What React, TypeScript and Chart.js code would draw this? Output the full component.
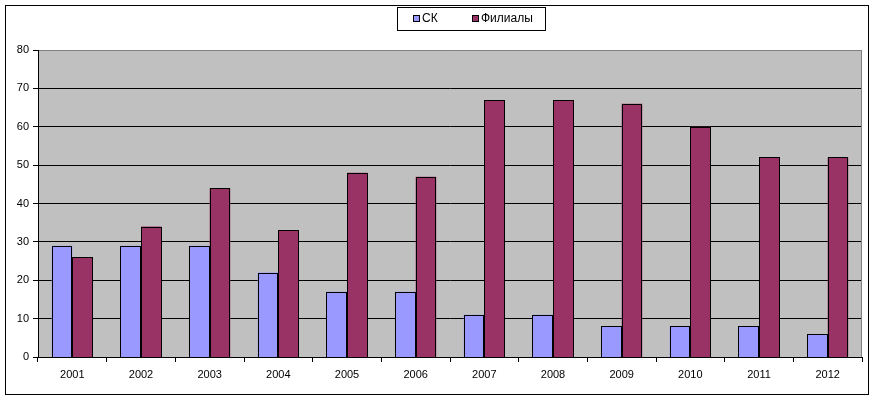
import React, { useEffect, useRef } from 'react';
import { Chart, registerables } from 'chart.js';

Chart.register(...registerables);

const years = ['2001', '2002', '2003', '2004', '2005', '2006', '2007', '2008', '2009', '2010', '2011', '2012'];
const skValues = [29, 29, 29, 22, 17, 17, 11, 11, 8, 8, 8, 6];
const filialValues = [26, 34, 44, 33, 48, 47, 67, 67, 66, 60, 52, 52];
const seriesNames = ['СК', 'Филиалы'];
const seriesColors = ['#9999FF', '#993366'];
const yMin = 0;
const yMax = 80;
const yStep = 10;

const FONT = '"Liberation Sans", Arial, sans-serif';

const framePlugin = {
  id: 'framePlugin',
  beforeDraw(chart: any) {
    const { ctx, chartArea } = chart;
    ctx.save();
    ctx.fillStyle = '#FFFFFF';
    ctx.fillRect(0, 0, chart.width, chart.height);
    ctx.strokeStyle = '#000000';
    ctx.lineWidth = 1;
    ctx.strokeRect(5.5, 5.5, 863, 389);
    ctx.fillStyle = '#C0C0C0';
    ctx.fillRect(chartArea.left, chartArea.top, chartArea.right - chartArea.left, chartArea.bottom - chartArea.top);
    ctx.restore();
  },
  afterDatasetsDraw(chart: any) {
    const { ctx } = chart;
    ctx.save();
    ctx.lineWidth = 1;
    chart.data.datasets.forEach((ds: any, di: number) => {
      const meta = chart.getDatasetMeta(di);
      meta.data.forEach((el: any) => {
        const p = el.getProps(['x', 'y', 'base', 'width'], true);
        const l = Math.round(p.x - p.width / 2);
        const r = Math.round(p.x + p.width / 2);
        const t = Math.round(p.y);
        const b = Math.round(p.base);
        ctx.fillStyle = ds.backgroundColor;
        ctx.fillRect(l, t, r - l, b - t);
        ctx.strokeStyle = '#000000';
        ctx.strokeRect(l + 0.5, t + 0.5, r - l - 1, b - t);
      });
    });
    ctx.restore();
  },
  afterDraw(chart: any) {
    const { ctx, chartArea } = chart;
    ctx.save();
    ctx.strokeStyle = '#808080';
    ctx.lineWidth = 1;
    ctx.beginPath();
    ctx.moveTo(Math.round(chartArea.right) - 0.5, chartArea.top);
    ctx.lineTo(Math.round(chartArea.right) - 0.5, chartArea.bottom);
    ctx.stroke();
    ctx.fillStyle = '#FFFFFF';
    ctx.fillRect(397, 7, 148, 23);
    ctx.strokeStyle = '#000000';
    ctx.strokeRect(397.5, 7.5, 148, 23);
    const items = [
      { x: 413, text: seriesNames[0], color: seriesColors[0] },
      { x: 472, text: seriesNames[1], color: seriesColors[1] },
    ];
    ctx.font = '12px ' + FONT;
    ctx.textBaseline = 'middle';
    ctx.textAlign = 'left';
    items.forEach((it) => {
      ctx.fillStyle = it.color;
      ctx.fillRect(it.x, 15, 7, 7);
      ctx.strokeStyle = '#000000';
      ctx.strokeRect(it.x + 0.5, 15.5, 6, 6);
      ctx.fillStyle = '#000000';
      ctx.fillText(it.text, it.x + 9, 19);
    });
    ctx.restore();
  },
};

export default function App() {
  const canvasRef = useRef<HTMLCanvasElement>(null);

  useEffect(() => {
    const canvas = canvasRef.current;
    if (!canvas) return;
    const chart = new Chart(canvas, {
      type: 'bar',
      data: {
        labels: years,
        datasets: [
          {
            label: seriesNames[0],
            data: skValues,
            backgroundColor: seriesColors[0],
            borderWidth: 0,
            categoryPercentage: 0.6,
            barPercentage: 1.0,
          },
          {
            label: seriesNames[1],
            data: filialValues,
            backgroundColor: seriesColors[1],
            borderWidth: 0,
            categoryPercentage: 0.6,
            barPercentage: 1.0,
          },
        ],
      },
      options: {
        responsive: false,
        animation: false,
        layout: { padding: { top: 50, right: 13, bottom: 0, left: 0 } },
        plugins: {
          legend: { display: false },
          tooltip: { enabled: false },
          title: { display: false },
        },
        scales: {
          x: {
            grid: {
              offset: true,
              drawOnChartArea: false,
              drawTicks: true,
              tickLength: 5,
              color: '#000000',
            },
            border: { color: '#000000', width: 1 },
            ticks: {
              color: '#000000',
              font: { family: FONT, size: 11 },
              padding: 6,
              maxRotation: 0,
              autoSkip: false,
            },
            afterFit(scale: any) {
              scale.height = 42;
            },
          },
          y: {
            min: yMin,
            max: yMax,
            grid: {
              color: (c: any) => (c.tick && c.tick.value === yMax ? '#808080' : '#000000'),
              tickColor: '#000000',
              drawTicks: true,
              tickLength: 5,
            },
            border: { color: '#000000', width: 1 },
            ticks: {
              stepSize: yStep,
              color: '#000000',
              font: { family: FONT, size: 11 },
              padding: 4,
            },
            afterFit(scale: any) {
              scale.width = 38;
            },
          },
        },
      },
      plugins: [framePlugin],
    });
    return () => chart.destroy();
  }, []);

  return (
    <div style={{ position: 'fixed', left: 0, top: 0, width: 875, height: 399, background: '#fff' }}>
      <canvas ref={canvasRef} width={875} height={399} style={{ display: 'block' }} />
    </div>
  );
}
